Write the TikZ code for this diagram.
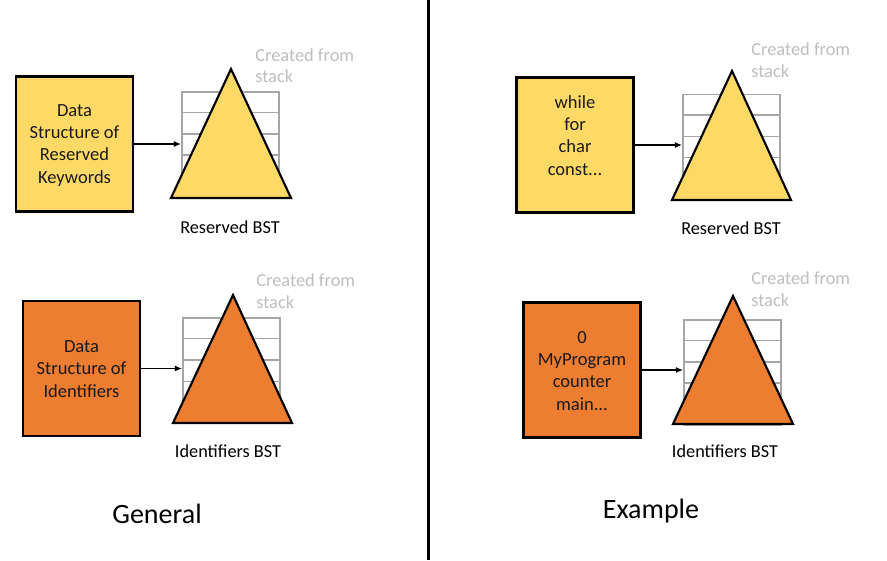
\documentclass[tikz,border=0pt]{standalone}
\usepackage{fontspec}
\setmainfont{Carlito}
\usetikzlibrary{arrows.meta,calc}
\definecolor{keyyel}{HTML}{FFD966}
\definecolor{idorange}{HTML}{ED7D31}
\definecolor{stackgray}{HTML}{A6A6A6}
\definecolor{notegray}{HTML}{BFBFBF}
\definecolor{inktext}{HTML}{1A1A1A}
\tikzset{
  databox/.style={draw=black, line width=1.9pt, minimum width=88pt, minimum height=101pt, inner sep=0pt},
  boxtext/.style={align=center, text=inktext, font=\fontsize{13.9}{16.6}\selectfont, inner sep=0pt, anchor=base},
  stackgrid/.style={draw=stackgray, line width=1.2pt, minimum width=72.75pt, minimum height=79pt, inner sep=0pt},
  gridrow/.style={draw=stackgray, line width=1.2pt},
  bst/.style={draw=black, line width=1.6pt, line join=miter},
  flow/.style={draw=black, line width=1.3pt, -{Latex[length=5.5pt,width=4.5pt]}},
  caption/.style={font=\fontsize{13.7}{16}\selectfont, inner sep=0pt, anchor=base},
  note/.style={font=\fontsize{13.8}{15.8}\selectfont, text=notegray, align=left, inner sep=0pt, anchor=base west},
  paneltitle/.style={font=\fontsize{21}{25}\selectfont, inner sep=0pt, anchor=base},
}
\newcommand{\gridlines}[1]{%
  \foreach \i in {1,...,4}{\draw[gridrow] ($(#1.north west)!\i/5!(#1.south west)$) -- ($(#1.north east)!\i/5!(#1.south east)$);}}
\begin{document}
\begin{tikzpicture}[x=0.75pt,y=-0.75pt]
\useasboundingbox (0,0) rectangle (887,560);
\fill[white] (0,0) rectangle (887,560);

% divider
\coordinate (dtop) at (428.5,0);
\coordinate (dbot) at (428.5,560);
\draw[black, line width=1.6pt] (dtop) -- (dbot);

% ---------- General: reserved ----------
\node[databox, fill=keyyel] (k1) at (74.5,144) {};
\node[boxtext] (k1t) at (74.5,183) {Data\\Structure of\\Reserved\\Keywords};
\node[stackgrid] (s1) at (230.5,144.5) {};
\gridlines{s1}
\coordinate (t1a) at (231,69); \coordinate (t1b) at (171,198); \coordinate (t1c) at (291,198);
\draw[bst, fill=keyyel] (t1a) -- (t1b) -- (t1c) -- cycle;
\draw[flow] (k1.east) -- (k1.east -| s1.west);
\node[caption] (c1) at (230,233) {Reserved BST};
\node[note] (n1) at (255,83) {Created from\\stack};

% ---------- General: identifiers ----------
\node[databox, fill=idorange] (d1) at (81.5,368.5) {};
\node[boxtext] (d1t) at (81.5,397) {Data\\Structure of\\Identifiers};
\node[stackgrid] (s2) at (231.5,370.75) {};
\gridlines{s2}
\coordinate (t2a) at (233,295); \coordinate (t2b) at (173,423); \coordinate (t2c) at (292,423);
\draw[bst, fill=idorange] (t2a) -- (t2b) -- (t2c) -- cycle;
\draw[flow] (d1.east) -- (d1.east -| s2.west);
\node[caption] (c2) at (228,457) {Identifiers BST};
\node[note] (n2) at (256,308) {Created from\\stack};

\node[paneltitle] (g) at (157,523) {General};

% ---------- Example: reserved ----------
\node[databox, fill=keyyel] (k2) at (575,145) {};
\node[boxtext] (k2t) at (575,175) {while\\for\\char\\const...};
\node[stackgrid] (s3) at (731.5,147) {};
\gridlines{s3}
\coordinate (t3a) at (732,71); \coordinate (t3b) at (672,200); \coordinate (t3c) at (791,200);
\draw[bst, fill=keyyel] (t3a) -- (t3b) -- (t3c) -- cycle;
\draw[flow] (k2.east) -- (k2.east -| s3.west);
\node[caption] (c3) at (731,234) {Reserved BST};
\node[note] (n3) at (751,77) {Created from\\stack};

% ---------- Example: identifiers ----------
\node[databox, fill=idorange] (d2) at (582,370) {};
\node[boxtext] (d2t) at (582,410) {0\\MyProgram\\counter\\main...};
\node[stackgrid] (s4) at (732.5,372.5) {};
\gridlines{s4}
\coordinate (t4a) at (733,296); \coordinate (t4b) at (673,424); \coordinate (t4c) at (793,424);
\draw[bst, fill=idorange] (t4a) -- (t4b) -- (t4c) -- cycle;
\draw[flow] (d2.east) -- (d2.east -| s4.west);
\node[caption] (c4) at (725,457) {Identifiers BST};
\node[note] (n4) at (751,306) {Created from\\stack};

\node[paneltitle] (e) at (651,518) {Example};
\end{tikzpicture}
\end{document}
